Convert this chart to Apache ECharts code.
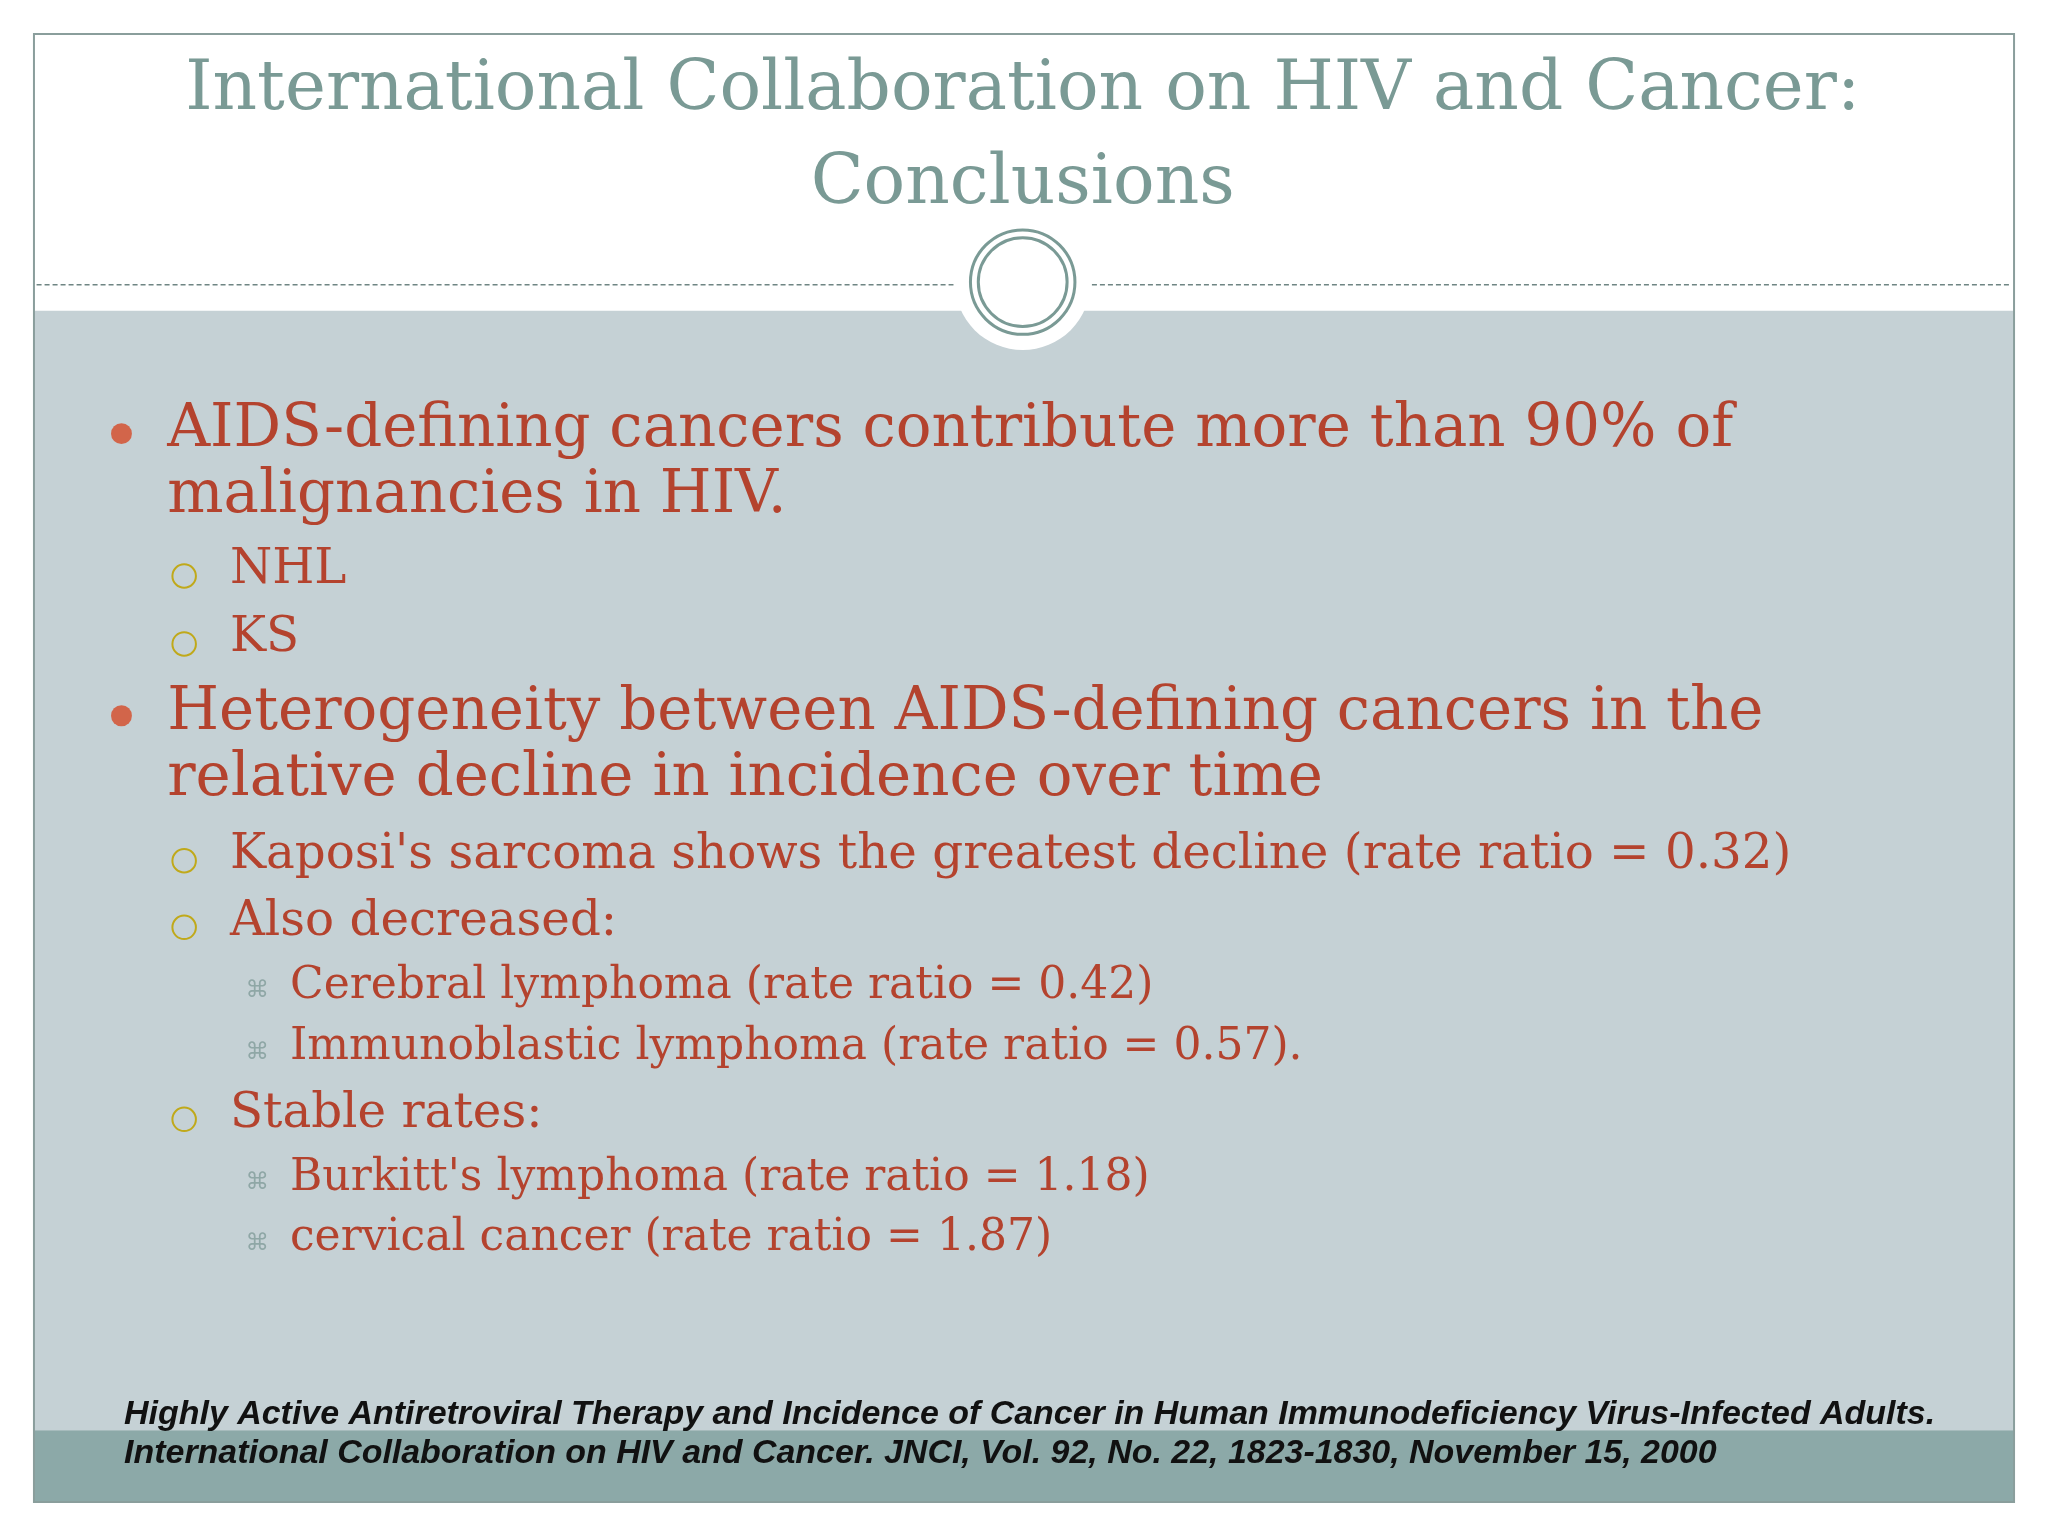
<!DOCTYPE html>
<html>
<head>
<meta charset="utf-8">
<script src="https://cdn.jsdelivr.net/npm/echarts@6/dist/echarts.min.js"></script>
<style>
  html, body { margin: 0; padding: 0; background: #fff; }
  #chart { width: 2048px; height: 1536px; }
</style>
</head>
<body>
<div id="chart"></div>
<script>
// Slide content
const titleLines = ['International Collaboration on HIV and Cancer:', 'Conclusions'];

const bulletLevels = [1, 1, 2, 2, 1, 1, 2, 2, 3, 3, 2, 3, 3];
const bulletTexts = [
  'AIDS-defining cancers contribute more than 90% of',
  'malignancies in HIV.',
  'NHL',
  'KS',
  'Heterogeneity between AIDS-defining cancers in the',
  'relative decline in incidence over time',
  "Kaposi's sarcoma shows the greatest decline (rate ratio = 0.32)",
  'Also decreased:',
  'Cerebral lymphoma (rate ratio = 0.42)',
  'Immunoblastic lymphoma (rate ratio = 0.57).',
  'Stable rates:',
  "Burkitt's lymphoma (rate ratio = 1.18)",
  'cervical cancer (rate ratio = 1.87)'
];
const bulletMarks = [true, false, true, true, true, false, true, true, true, true, true, true, true];
const bulletRows = [330, 380, 437, 489, 546, 597, 655, 706, 755, 802, 853, 902, 948];

const citationLines = [
  'Highly Active Antiretroviral Therapy and Incidence of Cancer in Human Immunodeficiency Virus-Infected Adults.',
  'International Collaboration on HIV and Cancer. JNCI, Vol. 92, No. 22, 1823-1830, November 15, 2000'
];

const S = 2048 / 1568;
const px = v => v * S;
const SERIF = '"DejaVu Serif", Georgia, serif';
const RED = '#b4432e';
const TEAL = '#7a9a95';

const levelStyle = {
  1: { textX: 128, size: 45.5, bulletX: 93 },
  2: { textX: 176, size: 37, bulletX: 141 },
  3: { textX: 222, size: 33.7, bulletX: 197 }
};

const graphic = [];

// backgrounds
graphic.push({ type: 'rect', shape: { x: px(26), y: px(238), width: px(1516), height: px(857) }, style: { fill: '#c5d1d5' } });
graphic.push({ type: 'rect', shape: { x: px(26), y: px(1095), width: px(1516), height: px(55) }, style: { fill: '#8ca9a8' } });
graphic.push({ type: 'rect', shape: { x: px(26), y: px(26), width: px(1516), height: px(1124) }, style: { fill: 'none', stroke: '#8a9e9c', lineWidth: 2 } });

// dashed divider
[[28, 730], [836, 1540]].forEach(([a, b]) => {
  graphic.push({ type: 'line', shape: { x1: px(a), y1: px(218), x2: px(b), y2: px(218) }, style: { stroke: '#6f8583', lineWidth: 1.5, lineDash: [5, 3] } });
});

// ornament
graphic.push({ type: 'circle', shape: { cx: px(783), cy: px(216), r: px(52) }, style: { fill: '#fff' } });
graphic.push({ type: 'circle', shape: { cx: px(783), cy: px(216), r: px(40) }, style: { fill: 'none', stroke: TEAL, lineWidth: 3 } });
graphic.push({ type: 'circle', shape: { cx: px(783), cy: px(216), r: px(34) }, style: { fill: 'none', stroke: TEAL, lineWidth: 3 } });

// title
titleLines.forEach((t, i) => {
  graphic.push({
    type: 'text', x: px(783), y: px(70 + i * 72),
    style: { text: t, fill: TEAL, font: `${px(53)}px ${SERIF}`, align: 'center', verticalAlign: 'middle' }
  });
});

// bullets
bulletTexts.forEach((t, i) => {
  const lv = levelStyle[bulletLevels[i]];
  const y = px(bulletRows[i]);
  graphic.push({
    type: 'text', x: px(lv.textX), y: y,
    style: { text: t, fill: RED, font: `${px(lv.size)}px ${SERIF}`, verticalAlign: 'middle' }
  });
  if (!bulletMarks[i]) return;
  const bx = px(lv.bulletX);
  if (bulletLevels[i] === 1) {
    graphic.push({ type: 'circle', shape: { cx: bx, cy: y + px(2), r: px(8) }, style: { fill: '#d2654a' } });
  } else if (bulletLevels[i] === 2) {
    graphic.push({ type: 'circle', shape: { cx: bx, cy: y + px(4), r: px(9) }, style: { fill: 'none', stroke: '#c0a91a', lineWidth: 2 } });
  } else {
    graphic.push({
      type: 'text', x: bx, y: y + px(4),
      style: { text: '⌘', fill: '#8fa7a6', font: `${px(18)}px "DejaVu Sans"`, align: 'center', verticalAlign: 'middle' }
    });
  }
});

// citation
citationLines.forEach((t, i) => {
  graphic.push({
    type: 'text', x: px(95), y: px(1083 + i * 30),
    style: { text: t, fill: '#111', font: `italic bold ${px(26)}px "Liberation Sans", Arial, sans-serif`, verticalAlign: 'middle' }
  });
});

const chart = echarts.init(document.getElementById('chart'));
chart.setOption({ backgroundColor: '#fff', animation: false, graphic: graphic });
</script>
</body>
</html>
